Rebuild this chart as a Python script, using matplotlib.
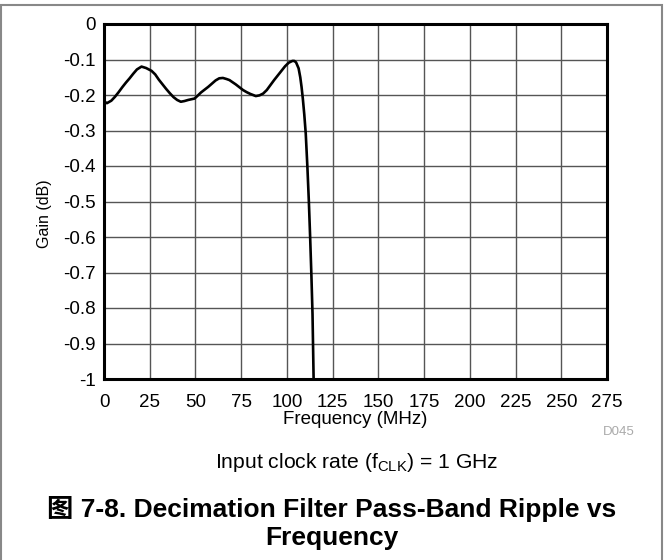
import numpy as np
import matplotlib
matplotlib.use("Agg")
import matplotlib.pyplot as plt
from matplotlib.patches import Rectangle

plt.rcParams['font.family'] = ['Liberation Sans', 'Noto Sans CJK SC', 'DejaVu Sans']
plt.rcParams['mathtext.default'] = 'regular'

# pass-band ripple
freq_mhz = [0, 1.6, 4, 6, 8, 10, 12, 14, 16, 18, 20.5, 23, 26, 28, 30, 32, 34,
            36, 38, 40, 42, 44, 46, 49.5, 51, 53, 55, 57, 59, 61, 63, 65, 67,
            68.6, 70, 72, 74, 76, 78, 80, 83, 85, 87, 89, 91, 93, 95, 97, 99,
            101, 103, 104, 105, 106.4, 107.3, 108, 108.7, 109.5, 110.3,
            111.2, 112, 112.7, 113.4, 114, 114.6]
gain_db = [-0.218, -0.223, -0.216, -0.205, -0.192, -0.178, -0.165, -0.153,
           -0.140, -0.128, -0.120, -0.124, -0.132, -0.142, -0.157, -0.170,
           -0.183, -0.195, -0.206, -0.214, -0.219, -0.217, -0.214, -0.210,
           -0.203, -0.193, -0.185, -0.177, -0.168, -0.159, -0.153, -0.152,
           -0.155, -0.158, -0.163, -0.170, -0.178, -0.186, -0.192, -0.197,
           -0.203, -0.201, -0.196, -0.186, -0.172, -0.158, -0.145, -0.132,
           -0.119, -0.109, -0.104, -0.104, -0.108, -0.125, -0.150, -0.177,
           -0.210, -0.255, -0.309, -0.403, -0.50, -0.60, -0.71, -0.817, -1.0]

xticks = np.arange(0, 276, 25)
yticks = np.round(np.arange(-1.0, 0.01, 0.1), 1)
ytick_labels = ['-1' if v == -1 else ('0' if v == 0 else f'{v:.1f}') for v in yticks]

fig = plt.figure(figsize=(6.64, 5.6), dpi=100)
ax = fig.add_axes([104 / 664, 1 - 379 / 560, 503 / 664, 355 / 560])

ax.plot(freq_mhz, gain_db, color='black', lw=1.9, zorder=3)

ax.set_xlim(0, 275)
ax.set_ylim(-1, 0)
ax.set_xticks(xticks)
ax.set_yticks(yticks)
ax.set_yticklabels(ytick_labels)
ax.tick_params(axis='x', length=0, labelsize=13.5, pad=11)
ax.tick_params(axis='y', length=0, labelsize=13.5, pad=6)
ax.grid(True, color='#555555', lw=1.0)
for s in ax.spines.values():
    s.set_linewidth(2.2)
    s.set_zorder(4)

ax.set_xlabel('Frequency (MHz)', fontsize=13.5, labelpad=0)
fig.text(45 / 664, 1 - 214 / 560, 'Gain (dB)', fontsize=11.5, rotation=90,
         ha='center', va='center')

# gray frame around the whole figure
fig.patches.append(Rectangle((1 / 664, -0.1), 661 / 664, 1.1 - 5 / 560,
                             transform=fig.transFigure, fill=False,
                             edgecolor='#888888', lw=1.5))

fig.text(619 / 664, 1 - 432 / 560, 'D045', color='#aaaaaa', fontsize=9.5,
         ha='center', va='center')
fig.text(357 / 664, 1 - 462 / 560, r'Input clock rate (f$_{CLK}$) = 1 GHz',
         fontsize=15.2, ha='center', va='center')
fig.text(332 / 664, 1 - 523 / 560,
         '图 7-8. Decimation Filter Pass-Band Ripple vs\nFrequency',
         fontsize=19, fontweight='bold', ha='center', va='center',
         linespacing=1.25)

fig.savefig('out.png', dpi=100)
